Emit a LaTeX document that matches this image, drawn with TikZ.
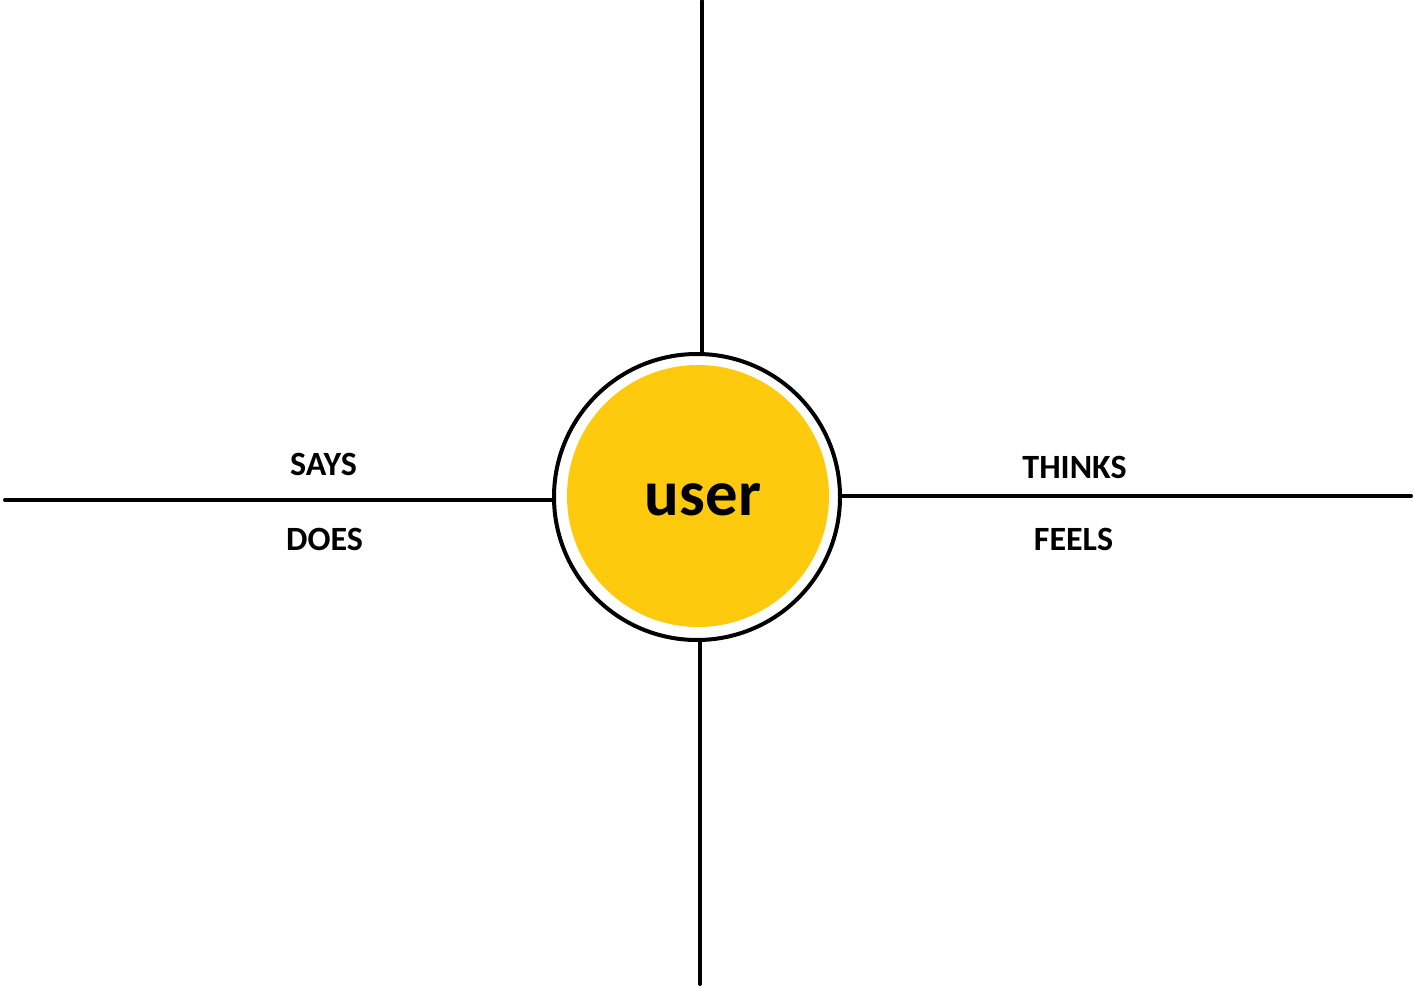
\documentclass[tikz,border=0pt]{standalone}
\usepackage{fontspec}
\setmainfont{Carlito}
\definecolor{sun}{RGB}{254,202,14}
\begin{document}
\begin{tikzpicture}[x=0.75pt,y=-0.75pt,
  axis/.style={line width=3pt,line cap=round,black},
  lbl/.style={font=\fontsize{25.5}{30}\selectfont\bfseries,inner sep=0pt},
  ring/.style={circle,draw=black,line width=3pt,minimum size=214.5pt,inner sep=0pt},
  core/.style={circle,fill=sun,minimum size=196.5pt,inner sep=0pt}]
\useasboundingbox (0,0) rectangle (1413,988);
\node[ring] (ring) at (697,497) {};
\node[core] (core) at (698,496) {};
\node[font=\fontsize{48.5}{56}\selectfont\bfseries,inner sep=0pt,anchor=base] (user) at (703,515) {user};
\coordinate (top) at (702,1);
\coordinate (bottom) at (700,984);
\coordinate (left) at (5,500);
\coordinate (right) at (1411,496);
\draw[axis] (top) -- (top |- ring.north);
\draw[axis] (bottom) -- (bottom |- ring.south);
\draw[axis] (left) -- (left -| ring.west);
\draw[axis] (right) -- (right -| ring.east);
\node[lbl] (says) at (323.5,464.5) {SAYS};
\node[lbl] (does) at (324.5,539.5) {DOES};
\node[lbl] (thinks) at (1074.5,467.5) {THINKS};
\node[lbl] (feels) at (1073.5,539) {FEELS};
\end{tikzpicture}
\end{document}
